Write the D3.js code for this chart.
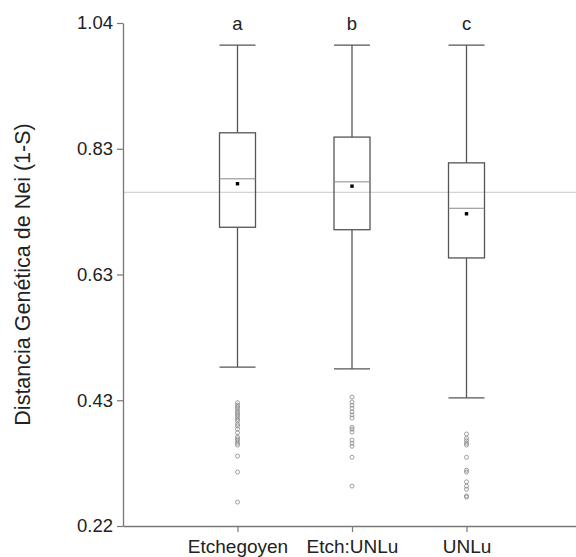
<!DOCTYPE html>
<html><head><meta charset="utf-8">
<script src="https://cdn.jsdelivr.net/npm/d3@7"></script>
<style>body{margin:0;background:#fff}svg{display:block;font-family:"Liberation Sans",Arial,sans-serif}</style>
</head><body><svg id="c" width="576" height="557"></svg>
<script>
const categories = ["Etchegoyen", "Etch:UNLu", "UNLu"];
const letters = ["a", "b", "c"];
const whiskerHigh = [1.004, 1.004, 1.004];
const q3 = [0.861, 0.854, 0.812];
const median = [0.786, 0.781, 0.738];
const mean = [0.778, 0.774, 0.729];
const q1 = [0.707, 0.703, 0.657];
const whiskerLow = [0.479, 0.476, 0.429];
const outliersEtchegoyen = [0.421,0.417,0.414,0.411,0.407,0.404,0.401,0.398,0.394,0.391,0.386,0.383,0.378,0.372,0.365,0.362,0.359,0.355,0.352,0.334,0.308,0.259];
const outliersEtchUNLu = [0.430,0.422,0.417,0.412,0.406,0.401,0.396,0.381,0.378,0.373,0.360,0.355,0.350,0.332,0.285];
const outliersUNLu = [0.370,0.363,0.359,0.355,0.352,0.332,0.311,0.308,0.292,0.285,0.280,0.269,0.267];
const referenceValue = 0.764;
const yTickValues = [0.22, 0.425, 0.63, 0.835, 1.04];
const yTickLabels = ["0.22", "0.43", "0.63", "0.83", "1.04"];
const yTitle = "Distancia Genética de Nei (1-S)";

const outliers = [outliersEtchegoyen, outliersEtchUNLu, outliersUNLu];
const svg = d3.select("#c");
const y = d3.scaleLinear().domain([0.22, 1.04]).range([526, 23]);
const x = d3.scalePoint().domain(categories).range([123, 581]).padding(1);
const boxW = 36;
const stroke = "#555";

// reference line
svg.append("line").attr("x1", 123).attr("x2", 576)
  .attr("y1", y(referenceValue)).attr("y2", y(referenceValue))
  .attr("stroke", "#d4d4d4").attr("stroke-width", 1.2);

// y axis
const ya = svg.append("g").attr("transform", "translate(123,0)")
  .call(d3.axisLeft(y).tickValues(yTickValues).tickFormat((d, i) => yTickLabels[i]).tickSize(6).tickSizeOuter(0));
ya.select(".domain").attr("stroke", "#777").attr("stroke-width", 1.3);
ya.selectAll(".tick line").attr("stroke", "#777").attr("stroke-width", 1.2);
ya.selectAll(".tick text").attr("font-size", 18.5).attr("fill", "#222").attr("x", -10)
  .attr("font-family", "Liberation Sans, Arial, sans-serif");

// x axis
const xa = svg.append("g").attr("transform", "translate(0,526)")
  .call(d3.axisBottom(x).tickSize(6).tickSizeOuter(0));
xa.select(".domain").attr("stroke", "#777").attr("stroke-width", 1.3);
xa.selectAll(".tick line").attr("stroke", "#777").attr("stroke-width", 1.2);
xa.selectAll(".tick text").attr("font-size", 19).attr("fill", "#222").attr("y", 13.5)
  .attr("font-family", "Liberation Sans, Arial, sans-serif");

// y title
svg.append("text").attr("transform", "translate(30,274.5) rotate(-90)")
  .attr("text-anchor", "middle").attr("font-size", 21.5).attr("fill", "#222").text(yTitle);

const g = svg.append("g");
categories.forEach((c, i) => {
  const cx = x(c);
  const gg = g.append("g");
  gg.append("line").attr("x1", cx).attr("x2", cx).attr("y1", y(whiskerHigh[i])).attr("y2", y(q3[i]))
    .attr("stroke", stroke).attr("stroke-width", 1.3);
  gg.append("line").attr("x1", cx).attr("x2", cx).attr("y1", y(q1[i])).attr("y2", y(whiskerLow[i]))
    .attr("stroke", stroke).attr("stroke-width", 1.3);
  [whiskerHigh[i], whiskerLow[i]].forEach(v => {
    gg.append("line").attr("x1", cx - boxW/2).attr("x2", cx + boxW/2).attr("y1", y(v)).attr("y2", y(v))
      .attr("stroke", stroke).attr("stroke-width", 1.3);
  });
  gg.append("rect").attr("x", cx - boxW/2).attr("width", boxW).attr("y", y(q3[i]))
    .attr("height", y(q1[i]) - y(q3[i])).attr("fill", "none").attr("stroke", stroke).attr("stroke-width", 1.3);
  gg.append("line").attr("x1", cx - boxW/2).attr("x2", cx + boxW/2).attr("y1", y(median[i])).attr("y2", y(median[i]))
    .attr("stroke", "#888").attr("stroke-width", 1);
  gg.append("rect").attr("x", cx - 1.7).attr("y", y(mean[i]) - 1.7).attr("width", 3.4).attr("height", 3.4).attr("fill", "#000");
  gg.selectAll("circle").data(outliers[i]).join("circle")
    .attr("cx", cx).attr("cy", d => y(d)).attr("r", 2)
    .attr("fill", "none").attr("stroke", "#888").attr("stroke-width", 0.8);
  svg.append("text").attr("x", cx).attr("y", 30).attr("text-anchor", "middle")
    .attr("font-size", 18.5).attr("fill", "#222").text(letters[i]);
});
</script></body></html>
